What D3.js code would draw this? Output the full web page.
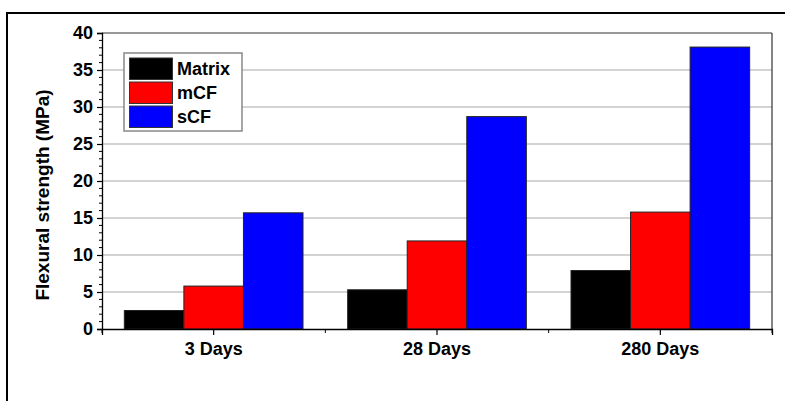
<!DOCTYPE html>
<html>
<head>
<meta charset="utf-8">
<script src="https://cdn.jsdelivr.net/npm/d3@7/dist/d3.min.js"></script>
<style>
  html, body { margin: 0; padding: 0; background: #fff; }
  svg { display: block; }
  text { font-family: "Liberation Sans", Arial, sans-serif; font-weight: bold; fill: #000; }
</style>
</head>
<body>
<svg id="chart" width="785" height="401"></svg>
<script>
const categories = ["3 Days", "28 Days", "280 Days"];
const seriesNames = ["Matrix", "mCF", "sCF"];
const seriesColors = ["#000000", "#ff0000", "#0000ff"];
const matrixValues = [2.5, 5.3, 7.9];
const mcfValues = [5.8, 11.9, 15.8];
const scfValues = [15.7, 28.7, 38.1];
const yTicks = [0, 5, 10, 15, 20, 25, 30, 35, 40];
const yLabel = "Flexural strength (MPa)";

const seriesValues = [matrixValues, mcfValues, scfValues];

const svg = d3.select("#chart");
const pLeft = 102, pRight = 772, pTop = 33, pBottom = 329;

// outer frame
svg.append("rect").attr("x", 7).attr("y", 13).attr("width", 790).attr("height", 420)
  .attr("fill", "none").attr("stroke", "#000").attr("stroke-width", 2);

const x = d3.scaleBand().domain(categories).range([pLeft, pRight]).padding(0);
const bw = x.bandwidth();
const xi = d3.scaleBand().domain(seriesNames).range([bw * 0.1, bw * 0.9]).padding(0);
const y = d3.scaleLinear().domain([0, 40]).range([pBottom, pTop]);

// gridlines
svg.append("g").selectAll("line").data(yTicks.filter(t => t > 0 && t < 40)).join("line")
  .attr("x1", pLeft).attr("x2", pRight)
  .attr("y1", d => y(d)).attr("y2", d => y(d))
  .attr("stroke", "#c4c4c4").attr("stroke-width", 1.5);

// bars
const groups = svg.append("g").selectAll("g").data(categories).join("g")
  .attr("transform", d => `translate(${x(d)},0)`);
groups.selectAll("rect").data((c, ci) => seriesNames.map((s, si) => ({ s, si, v: seriesValues[si][ci] })))
  .join("rect")
  .attr("x", d => xi(d.s))
  .attr("width", xi.bandwidth())
  .attr("y", d => y(d.v))
  .attr("height", d => y(0) - y(d.v))
  .attr("fill", d => seriesColors[d.si])
  .attr("stroke", "#222").attr("stroke-width", 1);

// top & right frame of plot
svg.append("line").attr("x1", pLeft).attr("x2", pRight).attr("y1", pTop).attr("y2", pTop)
  .attr("stroke", "#333").attr("stroke-width", 1.2);
svg.append("line").attr("x1", pRight).attr("x2", pRight).attr("y1", pTop).attr("y2", pBottom)
  .attr("stroke", "#333").attr("stroke-width", 1.2);

// y axis
const yAxis = d3.axisLeft(y).tickValues(yTicks).tickSize(5).tickPadding(4).tickFormat(d3.format("d"));
const gy = svg.append("g").attr("transform", `translate(${pLeft},0)`).call(yAxis);
gy.select(".domain").attr("stroke", "#000").attr("stroke-width", 1.3);
gy.selectAll(".tick line").attr("stroke", "#000").attr("stroke-width", 1.2);
gy.selectAll(".tick text").style("font-size", "18px").style("font-family", "Liberation Sans, Arial, sans-serif").style("font-weight", "bold").attr("fill", "#000");
// minor y ticks
const minor = d3.range(0, 41, 1).filter(v => v % 5 !== 0);
svg.append("g").selectAll("line").data(minor).join("line")
  .attr("x1", pLeft - 3).attr("x2", pLeft).attr("y1", d => y(d)).attr("y2", d => y(d))
  .attr("stroke", "#000").attr("stroke-width", 1);

// x axis
const xAxis = d3.axisBottom(x).tickSize(6).tickPadding(7);
const gx = svg.append("g").attr("transform", `translate(0,${pBottom})`).call(xAxis);
gx.select(".domain").attr("stroke", "#000").attr("stroke-width", 1.3);
gx.selectAll(".tick line").attr("stroke", "#000").attr("stroke-width", 1.2);
gx.selectAll(".tick text").style("font-size", "18px").style("font-family", "Liberation Sans, Arial, sans-serif").style("font-weight", "bold").attr("fill", "#000");
// minor x ticks at category boundaries
const bounds = categories.map(c => x(c)).concat([x(categories[categories.length - 1]) + bw]);
svg.append("g").selectAll("line").data(bounds).join("line")
  .attr("x1", d => d).attr("x2", d => d).attr("y1", pBottom).attr("y2", pBottom + 4)
  .attr("stroke", "#000").attr("stroke-width", 1);

// y label
svg.append("text")
  .attr("transform", `translate(49,${(pTop + pBottom) / 2 + 14}) rotate(-90)`)
  .attr("text-anchor", "middle")
  .style("font-size", "19px")
  .text(yLabel);

// legend
const lg = svg.append("g");
lg.append("rect").attr("x", 124).attr("y", 53).attr("width", 118).attr("height", 78)
  .attr("fill", "#fff").attr("stroke", "#888").attr("stroke-width", 1.5);
const rowH = 24;
seriesNames.forEach((s, i) => {
  lg.append("rect").attr("x", 129.5).attr("y", 58 + i * rowH).attr("width", 43).attr("height", 21.5)
    .attr("fill", seriesColors[i]).attr("stroke", "#333").attr("stroke-width", 1);
  lg.append("text").attr("x", 177).attr("y", 58 + i * rowH + 11).attr("dy", "0.35em")
    .style("font-size", "18px").text(s);
});
</script>
</body>
</html>
